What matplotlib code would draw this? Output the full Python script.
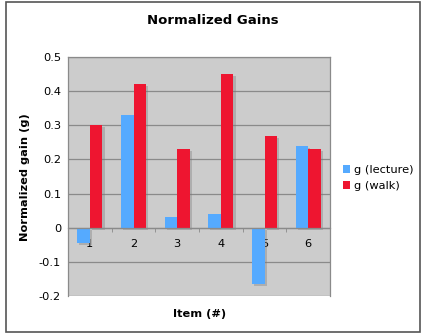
import numpy as np
import matplotlib
matplotlib.use("Agg")
import matplotlib.pyplot as plt
import matplotlib.patheffects as pe
from matplotlib.patches import Rectangle, Patch

# data
items = ["1", "2", "3", "4", "5", "6"]
g_lecture = [-0.045, 0.33, 0.03, 0.04, -0.165, 0.24]
g_walk = [0.30, 0.42, 0.23, 0.45, 0.27, 0.23]
yticks = [-0.2, -0.1, 0, 0.1, 0.2, 0.3, 0.4, 0.5]
ytick_labels = ["-0.2", "-0.1", "0", "0.1", "0.2", "0.3", "0.4", "0.5"]

BLUE = "#55AAFF"
RED = "#EE1530"

plt.rcParams["font.family"] = "DejaVu Sans"

fig = plt.figure(figsize=(4.26, 3.33), dpi=100)
ax = fig.add_axes([68 / 426, 1 - 296 / 333, 262 / 426, 239 / 333])
ax.set_facecolor("#CCCCCC")

x = np.arange(1, len(items) + 1)
w = 0.29
shadow = [pe.SimplePatchShadow(offset=(1.5, -1.5), shadow_rgbFace="#777777", alpha=0.35), pe.Normal()]

b1 = ax.bar(x - w / 2, g_lecture, w, color=BLUE, zorder=3)
b2 = ax.bar(x + w / 2, g_walk, w, color=RED, zorder=3)
for b in list(b1) + list(b2):
    b.set_path_effects(shadow)

ax.set_xlim(0.5, len(items) + 0.5)
ax.set_ylim(-0.2, 0.5)
ax.set_yticks(yticks)
ax.set_yticklabels(ytick_labels)
ax.set_xticks(x)
ax.set_xticklabels(items)
ax.set_xticks(np.arange(0.5, len(items) + 1), minor=True)

ax.yaxis.grid(True, color="#8A8A8A", lw=0.9, zorder=1)
ax.set_axisbelow(True)

for s in ["left", "right", "top"]:
    ax.spines[s].set_color("#8A8A8A")
    ax.spines[s].set_linewidth(0.9)
ax.spines["bottom"].set_position(("data", 0))
ax.spines["bottom"].set_color("#8A8A8A")
ax.spines["bottom"].set_linewidth(0.9)
ax.spines["bottom"].set_zorder(4)

ax.tick_params(axis="y", length=0, pad=5, labelsize=8.2)
ax.tick_params(axis="x", which="major", length=0, pad=8, labelsize=8.2)
ax.tick_params(axis="x", which="minor", length=3, color="#8A8A8A", direction="out")

fig.text(213 / 426, 1 - 20 / 333, "Normalized Gains", ha="center", va="center",
         fontsize=9.5, fontweight="bold")
fig.text(25 / 426, 1 - 177 / 333, "Normalized gain (g)", ha="center", va="center",
         rotation=90, fontsize=8.2, fontweight="bold")
fig.text(200 / 426, 1 - 314 / 333, "Item (#)", ha="center", va="center",
         fontsize=8.2, fontweight="bold")

handles = [Patch(facecolor=BLUE, label="g (lecture)"), Patch(facecolor=RED, label="g (walk)")]
fig.legend(handles=handles, loc="center left", bbox_to_anchor=(343 / 426, 1 - 178 / 333),
           frameon=False, fontsize=8.2, handlelength=0.6, handleheight=0.75,
           handletextpad=0.35, borderpad=0, labelspacing=0.5, borderaxespad=0)

fig.patches.append(Rectangle((6 / 426, 1 / 333), 414 / 426, 330 / 333, transform=fig.transFigure,
                             fill=False, edgecolor="#555555", lw=1.2))

fig.savefig("out.png", dpi=100)
